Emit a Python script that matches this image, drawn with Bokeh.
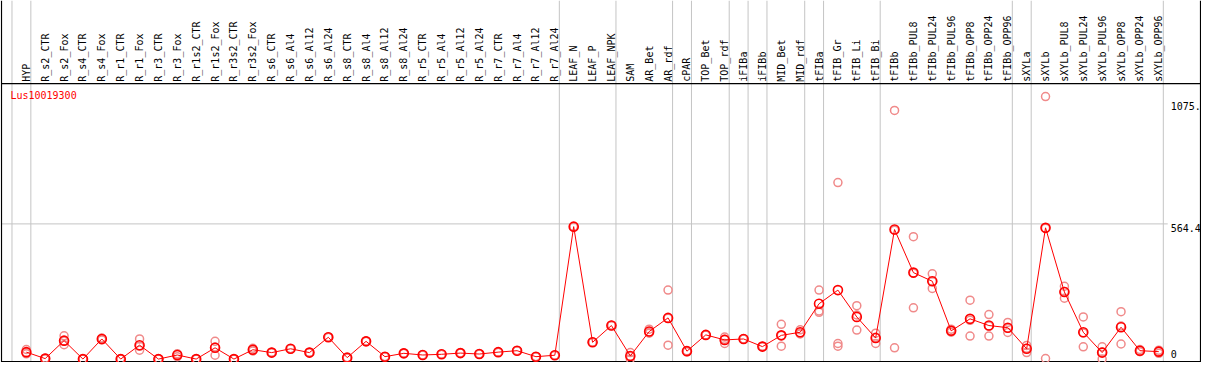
import math
from bokeh.plotting import figure
from bokeh.models import Range1d
from bokeh.core.properties import value
from bokeh.embed import file_html
from bokeh.resources import INLINE

# ---------------- data ----------------
gene = "Lus10019300"

categories = [
    "HYP",
    "R_s2_CTR", "R_s2_Fox", "R_s4_CTR", "R_s4_Fox", "R_r1_CTR", "R_r1_Fox",
    "R_r3_CTR", "R_r3_Fox", "R_r1s2_CTR", "R_r1s2_Fox", "R_r3s2_CTR", "R_r3s2_Fox",
    "R_s6_CTR", "R_s6_Al4", "R_s6_Al12", "R_s6_Al24",
    "R_s8_CTR", "R_s8_Al4", "R_s8_Al12", "R_s8_Al24",
    "R_r5_CTR", "R_r5_Al4", "R_r5_Al12", "R_r5_Al24",
    "R_r7_CTR", "R_r7_Al4", "R_r7_Al12", "R_r7_Al24",
    "LEAF_N", "LEAF_P", "LEAF_NPK",
    "SAM", "AR_Bet", "AR_rdf", "cPAR", "TOP_Bet", "TOP_rdf",
    "iFIBa", "iFIBb", "MID_Bet", "MID_rdf",
    "tFIBa", "tFIB_Gr", "tFIB_Li", "tFIB_Bi",
    "tFIBb", "tFIBb_PUL8", "tFIBb_PUL24", "tFIBb_PUL96",
    "tFIBb_OPP8", "tFIBb_OPP24", "tFIBb_OPP96",
    "sXYLa", "sXYLb", "sXYLb_PUL8", "sXYLb_PUL24", "sXYLb_PUL96",
    "sXYLb_OPP8", "sXYLb_OPP24", "sXYLb_OPP96",
]

means = [
    29,
    2, 77, 0, 84, 0, 58, 0, 17, 0, 47, 0, 39,
    27, 43, 27, 91,
    6, 74, 10, 24,
    17, 20, 25, 21,
    29, 35, 10, 16,
    553, 70, 140,
    13, 115, 172, 33, 101, 80,
    84, 52, 99, 112,
    231, 288, 176, 88,
    541, 361, 325, 118,
    168, 140, 131,
    43, 548, 280, 112, 27,
    133, 35, 31,
]

rep_a = [
    40,
    3, 97, 0, 88, 0, 84, 0, 22, 0, 74, 0, 45,
    27, 43, 27, 91,
    6, 74, 10, 24,
    17, 20, 25, 21,
    29, 35, 10, 16,
    553, 70, 140,
    27, 125, 288, 35, 101, 92,
    84, 52, 145, 122,
    288, 737, 223, 108,
    1038, 511, 356, 125,
    246, 186, 153,
    57, 1096, 304, 176, 51,
    198, 40, 37,
]

rep_b = [
    27,
    1, 60, 0, 80, 0, 37, 0, 10, 0, 16, 0, 34,
    27, 43, 27, 91,
    6, 74, 10, 24,
    17, 20, 25, 21,
    29, 35, 10, 16,
    553, 70, 140,
    0, 108, 58, 31, 101, 65,
    84, 52, 54, 105,
    201, 65, 121, 65,
    47, 214, 295, 112,
    96, 96, 111,
    27, 2, 254, 51, 0,
    63, 31, 24,
]

rep_c = [
    22,
    2, 75, 0, 84, 0, 54, 0, 19, 0, 50, 0, 38,
    27, 43, 27, 91,
    6, 74, 10, 24,
    17, 20, 25, 21,
    29, 35, 10, 16,
    553, 70, 140,
    12, 112, 170, 33, 101, 83,
    84, 52, 98, 109,
    195, 54, 184, 91,
    538, 358, 324, 117,
    162, 138, 129,
    45, 546, 282, 109, 30,
    138, 34, 32,
]

# group separators are drawn after these category indices
separators_after = [-1, 0, 28, 31, 34, 35, 37, 38, 39, 41, 42, 45, 52, 53, 60]

y_ticks = [0, 564.4, 1075]
y_tick_labels = ["0", "564.4", "1075."]

# ---------------- layout ----------------
W, H = 1201, 362
SX = W / 1209.0          # shrink of the 1209x370 design to fit the window
SY = H / 370.0
STEP = 19.0 * SX         # px per category
X0_PX = 26.0 * SX        # px position of first category
Y0_PX = 366.5 * SY       # px (from top) of value 0
PPU = 0.2448 * SY        # px per unit

x_start = -X0_PX / STEP
x_end = (W - X0_PX) / STEP
y_end = Y0_PX / PPU
y_start = -(H - Y0_PX) / PPU


def xpx(px):
    """design-pixel x -> data x"""
    return (px * SX - X0_PX) / STEP


def ypx(py):
    """design-pixel y (from top) -> data y"""
    return (Y0_PX - py * SY) / PPU


p = figure(width=W, height=H,
           x_range=Range1d(x_start, x_end), y_range=Range1d(y_start, y_end),
           output_backend="svg", toolbar_location=None,
           x_axis_location=None, y_axis_location=None,
           min_border=0, outline_line_color=None)
p.grid.visible = False
p.background_fill_color = "white"

GREY = "#c4c4c4"
FONT = value("DejaVu Sans Mono")

# vertical grey group separators
sep_x = [i + 0.24 for i in separators_after]
p.segment(x0=sep_x, x1=sep_x, y0=[y_start] * len(sep_x), y1=[y_end] * len(sep_x),
          line_color=GREY, line_width=1)

# horizontal grid line at middle tick
p.segment(x0=[xpx(1)], x1=[xpx(1175)], y0=[y_ticks[1]], y1=[y_ticks[1]],
          line_color=GREY, line_width=1)

# black frame lines
top_v = ypx(85)
bot_v = ypx(369)
left_x = xpx(1)
right_x = xpx(1208)
p.segment(x0=[left_x, left_x, left_x, right_x],
          x1=[right_x, right_x, left_x, right_x],
          y0=[top_v, bot_v, y_start, y_start],
          y1=[top_v, bot_v, y_end, y_end],
          line_color="black", line_width=1.2)

xs = list(range(len(categories)))

# replicates
rx = xs + xs + xs
ry = rep_a + rep_b + rep_c
p.scatter(rx, ry, marker="circle", size=8, fill_color=None,
          line_color="#f08a8a", line_width=1.5)

# mean line + markers
p.line(xs, means, line_color="#ff0000", line_width=1)
p.scatter(xs, means, marker="circle", size=9, fill_color=None,
          line_color="#ff0000", line_width=1.6)

# category labels (vertical)
p.text(x=xs, y=[ypx(83)] * len(xs), text=categories, angle=math.pi / 2,
       text_align="left", text_baseline="middle", text_font=FONT,
       text_font_size="10px", text_color="black")

# gene name
p.text(x=[xpx(10)], y=[ypx(97)], text=[gene], text_align="left",
       text_baseline="middle", text_font=FONT, text_font_size="10px",
       text_color="#ff0000")

# y tick labels on the right
lab_py = [min(366.5 - v * 0.2448 + 4, 361.7) for v in y_ticks]
p.text(x=[xpx(1178)] * len(y_ticks), y=[ypx(py) for py in lab_py], text=y_tick_labels,
       text_align="left", text_baseline="middle", text_font=FONT,
       text_font_size="10px", text_color="black")

open("out.html", "w").write(file_html(p, INLINE))
